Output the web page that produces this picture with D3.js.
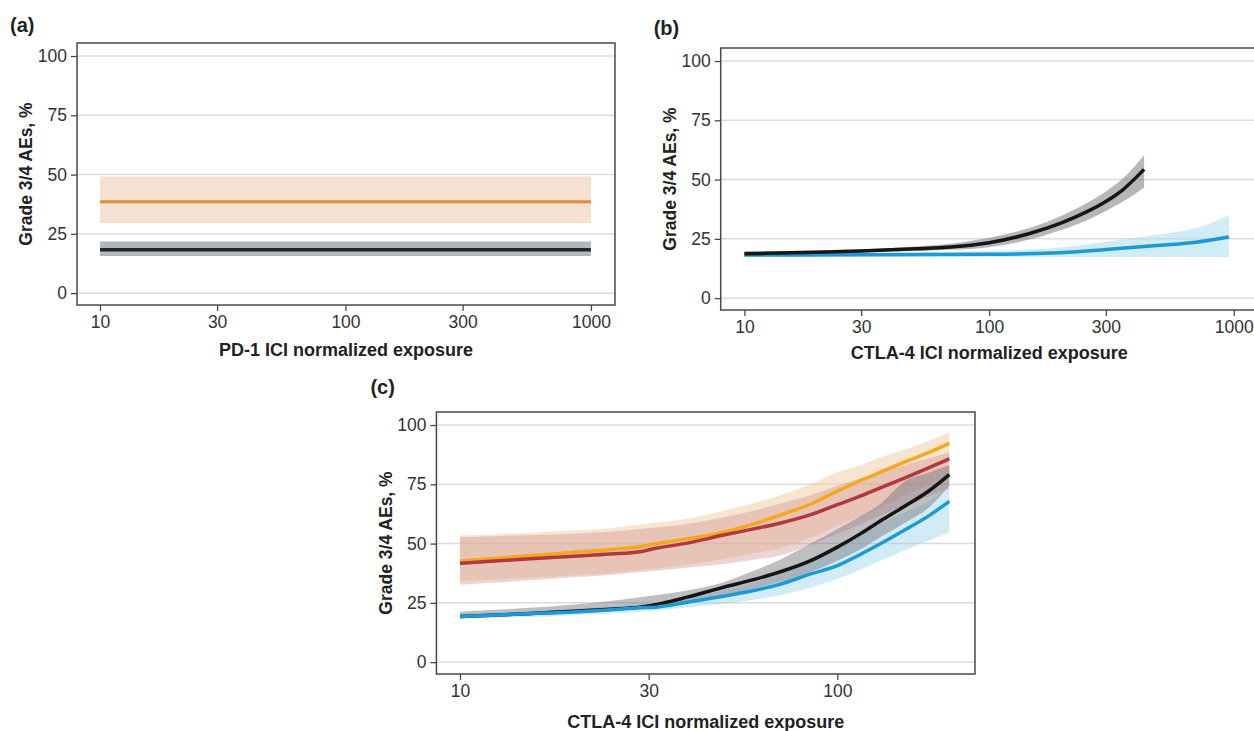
<!DOCTYPE html>
<html>
<head>
<meta charset="utf-8">
<script src="https://cdn.jsdelivr.net/npm/d3@7"></script>
<style>
  body { margin: 0; background: #fff; }
  svg { display: block; }
</style>
</head>
<body>
<div id="chart"></div>
<script>
// ---- data ----
const yTicks = [0, 25, 50, 75, 100];
const yTitle = 'Grade 3/4 AEs, %';

// panel (a): PD-1
const aExposure = [10, 1000];
const aOrange = [38.5, 38.5];
const aOrangeLo = [29.6, 29.6];
const aOrangeHi = [49.2, 49.2];
const aBlack = [18.3, 18.3];
const aBlackLo = [15.7, 15.7];
const aBlackHi = [21.8, 21.8];
const aXTicks = [10, 30, 100, 300, 1000];
const aXLabels = ['10', '30', '100', '300', '1000'];

// panel (b): CTLA-4
const bBlackX = [10, 20, 30, 50, 70, 100, 150, 200, 250, 300, 350, 430];
const bBlack = [18.7, 19.4, 19.9, 20.8, 21.6, 23.4, 27.6, 32.0, 36.4, 40.8, 45.5, 54.3];
const bBlackHi = [19.8, 20.2, 20.6, 21.8, 23.0, 25.5, 30.0, 35.0, 40.0, 45.0, 50.2, 60.3];
const bBlackLo = [18.0, 18.7, 19.2, 19.9, 20.4, 21.5, 25.0, 29.0, 32.8, 36.8, 40.5, 46.7];
const bBlueX = [10, 30, 100, 180, 300, 500, 700, 955];
const bBlue = [18.2, 18.3, 18.5, 19.0, 20.5, 22.3, 23.6, 25.8];
const bBlueHi = [18.8, 19.0, 20.0, 21.0, 23.8, 27.0, 29.6, 35.0];
const bBlueLo = [17.6, 17.5, 17.4, 17.4, 17.4, 17.4, 17.4, 17.4];
const bXTicks = [10, 30, 100, 300, 1000];
const bXLabels = ['10', '30', '100', '300', '1000'];

// panel (c): CTLA-4, four groups
const cX = [10, 15, 20, 25, 30, 33, 40, 50, 60, 70, 85, 100, 115, 130, 150, 175, 198];
const cOrange   = [42.6, 44.8, 46.3, 47.5, 48.7, 49.9, 52.0, 54.8, 58.3, 61.8, 66.7, 72.1, 76.5, 80.1, 84.3, 88.5, 92.3];
const cOrangeHi = [53.4, 54.5, 55.5, 56.5, 58.0, 58.8, 60.5, 63.9, 67.0, 70.2, 75.1, 80.1, 83.0, 86.4, 89.5, 93.4, 96.9];
const cOrangeLo = [34.2, 35.5, 36.5, 37.5, 38.8, 39.5, 41.0, 43.5, 45.8, 48.0, 52.5, 57.5, 61.5, 65.0, 70.0, 75.0, 79.0];
const cRed   = [41.7, 43.5, 44.7, 45.6, 46.6, 48.0, 50.2, 53.6, 56.2, 58.5, 62.2, 66.4, 70.0, 73.5, 77.5, 82.0, 85.7];
const cRedHi = [52.7, 53.5, 54.2, 55.0, 56.2, 56.8, 58.3, 61.1, 63.8, 66.7, 70.5, 74.4, 77.5, 80.0, 83.0, 86.0, 88.5];
const cRedLo = [32.6, 34.4, 35.8, 36.8, 37.9, 38.5, 39.8, 41.4, 43.2, 44.9, 49.5, 54.1, 58.0, 61.8, 65.5, 70.0, 73.0];
const cBlack   = [19.2, 20.4, 21.5, 22.3, 23.2, 24.2, 27.4, 31.6, 34.8, 37.9, 42.8, 48.5, 54.1, 59.5, 65.5, 72.3, 79.1];
const cBlackHi = [21.3, 22.8, 24.3, 25.8, 27.4, 28.2, 30.2, 33.7, 38.5, 43.0, 50.0, 56.2, 61.5, 66.7, 76.0, 80.0, 83.0];
const cBlackLo = [19.0, 19.8, 20.6, 21.5, 22.5, 23.2, 25.3, 28.1, 31.0, 33.7, 38.0, 42.8, 47.5, 52.7, 58.5, 65.3, 74.4];
const cBlue   = [19.2, 20.4, 21.2, 22.1, 22.9, 23.2, 25.3, 27.8, 30.2, 32.7, 37.2, 40.7, 45.4, 49.9, 55.5, 61.8, 67.8];
const cBlueHi = [20.4, 21.5, 22.5, 23.5, 24.4, 24.9, 27.0, 30.2, 33.5, 37.2, 43.0, 48.5, 53.5, 58.3, 63.0, 68.1, 74.4];
const cBlueLo = [18.3, 19.0, 19.7, 20.5, 21.3, 21.8, 23.0, 24.6, 26.3, 28.1, 31.5, 35.1, 39.0, 42.8, 47.0, 51.3, 54.8];
const cXTicks = [10, 31.62, 100];
const cXLabels = ['10', '30', '100'];

// ---- layout ----
const W = 1254, H = 731;
const tickFont = '"Liberation Sans", Arial, sans-serif';
const titleFont = '"Liberation Sans", Arial, sans-serif';

const svg = d3.select('#chart').append('svg')
    .attr('width', W)
    .attr('height', H);

function zip(xs, ys, lo, hi) {
    return xs.map((x, i) => ({ x: x, y: ys[i], lo: lo[i], hi: hi[i] }));
}

const panels = [
    {
        letter: '(a)', left: 77, right: 615, top: 43, bottom: 305,
        letterDx: -67, letterDy: -11, titleDy: 51,
        xDomain: [8.06, 1253], xTicks: aXTicks, xLabels: aXLabels,
        xTitle: 'PD-1 ICI normalized exposure',
        series: [
            { d: zip(aExposure, aOrange, aOrangeLo, aOrangeHi), line: '#e08a3c', band: '#f6e1d0', bandOp: 1, w: 3 },
            { d: zip(aExposure, aBlack, aBlackLo, aBlackHi), line: '#1c2a2a', band: '#b3b7bb', bandOp: 1, w: 3.5 }
        ]
    },
    {
        letter: '(b)', left: 720.7, right: 1258, top: 48, bottom: 310,
        letterDx: -67, letterDy: -13, titleDy: 49,
        xDomain: [8.0, 1256], xTicks: bXTicks, xLabels: bXLabels,
        xTitle: 'CTLA-4 ICI normalized exposure',
        series: [
            { d: zip(bBlueX, bBlue, bBlueLo, bBlueHi), line: '#1b9ad6', band: '#aadcf0', bandOp: 0.55, w: 3.5 },
            { d: zip(bBlackX, bBlack, bBlackLo, bBlackHi), line: '#161616', band: '#6e6f74', bandOp: 0.5, w: 3.5 }
        ]
    },
    {
        letter: '(c)', left: 436.4, right: 975, top: 412, bottom: 674,
        letterDx: -66, letterDy: -18, titleDy: 54,
        xDomain: [8.66, 231.6], xTicks: cXTicks, xLabels: cXLabels,
        xTitle: 'CTLA-4 ICI normalized exposure',
        series: [
            { d: zip(cX, cOrange, cOrangeLo, cOrangeHi), line: null, band: '#f1cfa8', bandOp: 0.55 },
            { d: zip(cX, cRed, cRedLo, cRedHi), line: null, band: '#cf8f8f', bandOp: 0.38 },
            { d: zip(cX, cBlue, cBlueLo, cBlueHi), line: null, band: '#8fd0ea', bandOp: 0.4 },
            { d: zip(cX, cBlack, cBlackLo, cBlackHi), line: null, band: '#707078', bandOp: 0.45 },
            { d: zip(cX, cOrange, cOrangeLo, cOrangeHi), line: '#f5a81c', band: null, w: 3.5 },
            { d: zip(cX, cRed, cRedLo, cRedHi), line: '#b3383c', band: null, w: 3.5 },
            { d: zip(cX, cBlack, cBlackLo, cBlackHi), line: '#141414', band: null, w: 3.5 },
            { d: zip(cX, cBlue, cBlueLo, cBlueHi), line: '#1b9ad6', band: null, w: 3.5 }
        ]
    }
];

panels.forEach(drawPanel);

function drawPanel(p) {
    const g = svg.append('g');

    const x = d3.scaleLog().domain(p.xDomain).range([p.left, p.right]);
    const y = d3.scaleLinear().domain([-5, 105.5]).range([p.bottom, p.top]);

    // gridlines
    g.append('g').selectAll('line')
        .data(yTicks)
        .enter().append('line')
        .attr('x1', p.left).attr('x2', p.right)
        .attr('y1', d => y(d)).attr('y2', d => y(d))
        .attr('stroke', '#dcdcdc')
        .attr('stroke-width', 1.5);

    // bands and lines
    p.series.forEach(s => {
        if (s.band) {
            g.append('path')
                .datum(s.d)
                .attr('fill', s.band)
                .attr('fill-opacity', s.bandOp)
                .attr('d', d3.area()
                    .x(d => x(d.x))
                    .y0(d => y(d.lo))
                    .y1(d => y(d.hi))
                    .curve(d3.curveMonotoneX));
        }
        if (s.line) {
            g.append('path')
                .datum(s.d)
                .attr('fill', 'none')
                .attr('stroke', s.line)
                .attr('stroke-width', s.w)
                .attr('d', d3.line()
                    .x(d => x(d.x))
                    .y(d => y(d.y))
                    .curve(d3.curveMonotoneX));
        }
    });

    // frame
    g.append('rect')
        .attr('x', p.left).attr('y', p.top)
        .attr('width', p.right - p.left)
        .attr('height', p.bottom - p.top)
        .attr('fill', 'none')
        .attr('stroke', '#4a4a4a')
        .attr('stroke-width', 1.5);

    // y axis
    const yAxis = g.append('g')
        .attr('transform', `translate(${p.left},0)`)
        .call(d3.axisLeft(y).tickValues(yTicks).tickSize(6).tickPadding(4));
    yAxis.select('.domain').remove();

    // x axis
    const xAxis = g.append('g')
        .attr('transform', `translate(0,${p.bottom})`)
        .call(d3.axisBottom(x).tickValues(p.xTicks).tickSize(6).tickPadding(5)
            .tickFormat((d, i) => p.xLabels[i]));
    xAxis.select('.domain').remove();

    g.selectAll('.tick line').attr('stroke', '#4a4a4a').attr('stroke-width', 1.3);
    g.selectAll('.tick text')
        .attr('fill', '#333')
        .style('font-family', tickFont)
        .style('font-size', '17.5px');

    // titles
    g.append('text')
        .attr('transform', `translate(${p.left - 51},${(p.top + p.bottom) / 2}) rotate(-90)`)
        .attr('text-anchor', 'middle')
        .attr('dy', '0.35em')
        .style('font-family', titleFont)
        .style('font-weight', 'bold')
        .style('font-size', '17.5px')
        .attr('fill', '#222')
        .text(yTitle);

    g.append('text')
        .attr('x', (p.left + p.right) / 2)
        .attr('y', p.bottom + p.titleDy)
        .attr('text-anchor', 'middle')
        .style('font-family', titleFont)
        .style('font-weight', 'bold')
        .style('font-size', '18px')
        .attr('fill', '#222')
        .text(p.xTitle);

    g.append('text')
        .attr('x', p.left + p.letterDx)
        .attr('y', p.top + p.letterDy)
        .style('font-family', titleFont)
        .style('font-weight', 'bold')
        .style('font-size', '20px')
        .attr('fill', '#222')
        .text(p.letter);
}
</script>
</body>
</html>
